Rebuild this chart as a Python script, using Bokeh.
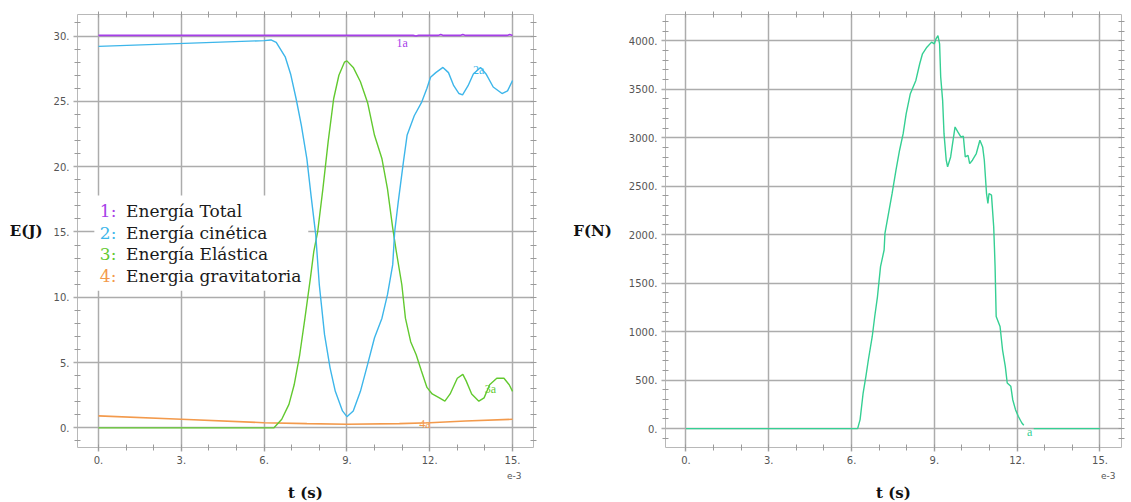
from bokeh.plotting import figure
from bokeh.layouts import row
from bokeh.models import Range1d, FixedTicker, LinearAxis, Label, Grid, Title
from bokeh.embed import file_html
from bokeh.resources import INLINE

# ---------------- data: energies (left) ----------------
t_total = [0.0, 3.0, 6.0, 8.0, 10.0, 11.4, 11.5, 11.6, 12.3, 12.4, 12.5, 13.1, 13.2, 13.3, 14.8, 14.9, 15.0]
e_total = [30.05, 30.05, 30.05, 30.05, 30.05, 30.05, 30.0, 30.05, 30.05, 30.12, 30.05, 30.05, 30.12, 30.05, 30.05, 30.12, 30.05]

t_kin = [0.0, 6.0, 6.25, 6.44, 6.77, 6.96, 7.16, 7.35, 7.55, 7.7, 7.87, 8.0, 8.19, 8.39, 8.58, 8.84, 9.0,
         9.23, 9.49, 9.75, 10.0, 10.27, 10.47, 10.66, 10.73, 10.86, 11.05, 11.18, 11.44, 11.7, 11.9, 12.03,
         12.22, 12.48, 12.68, 12.87, 13.06, 13.19, 13.39, 13.58, 13.84, 14.04, 14.3, 14.62, 14.82, 15.0]
e_kin = [29.21, 29.65, 29.7, 29.52, 28.38, 27.1, 25.2, 23.16, 20.6, 17.8, 14.8, 10.96, 7.14, 4.6, 2.8, 1.3, 0.86,
         1.3, 2.8, 4.86, 6.9, 8.4, 10.2, 12.5, 15.0, 17.3, 20.4, 22.4, 23.9, 24.9, 26.0, 26.85,
         27.2, 27.6, 27.2, 26.2, 25.6, 25.5, 26.2, 27.1, 27.6, 27.1, 26.1, 25.6, 25.8, 26.6]

t_ela = [0.0, 6.35, 6.64, 6.9, 7.09, 7.29, 7.48, 7.68, 7.8, 7.94, 8.13, 8.32, 8.52, 8.71, 8.91, 9.0,
         9.23, 9.49, 9.75, 10.0, 10.27, 10.47, 10.66, 10.79, 10.99, 11.12, 11.31, 11.51, 11.7, 11.9,
         12.09, 12.35, 12.55, 12.74, 13.0, 13.2, 13.32, 13.52, 13.78, 13.97, 14.17, 14.43, 14.69, 14.88, 15.0]
e_ela = [0.0, 0.0, 0.66, 1.8, 3.3, 5.6, 8.4, 11.5, 13.5, 15.0, 18.3, 21.9, 25.2, 27.0, 28.0, 28.1,
         27.6, 26.5, 24.9, 22.4, 20.6, 18.3, 15.3, 13.5, 10.96, 8.4, 6.6, 5.6, 4.35, 3.1,
         2.6, 2.3, 2.05, 2.6, 3.8, 4.1, 3.6, 2.6, 2.05, 2.3, 3.3, 3.8, 3.8, 3.3, 2.8]

t_grav = [0.0, 3.0, 6.0, 7.55, 9.0, 10.9, 12.0, 13.3, 15.0]
e_grav = [0.92, 0.66, 0.4, 0.33, 0.28, 0.33, 0.4, 0.53, 0.66]

legend_nums = ["1:", "2:", "3:", "4:"]
legend_names = ["Energía Total", "Energía cinética", "Energía Elástica", "Energia gravitatoria"]
curve_tags = ["1a", "2a", "3a", "4a"]
tag_t = [11.0, 13.77, 14.2, 11.83]
tag_e = [29.5, 27.4, 2.97, 0.3]

# ---------------- data: force (right) ----------------
t_force = [0.0, 6.22, 6.31, 6.42, 6.52, 6.61, 6.75, 6.84, 6.94, 7.05, 7.18, 7.21, 7.34, 7.47, 7.61, 7.74,
           7.87, 7.98, 8.13, 8.33, 8.47, 8.57, 8.73, 8.9, 9.0, 9.06, 9.13, 9.19, 9.23, 9.3, 9.35, 9.43,
           9.48, 9.59, 9.66, 9.75, 9.85, 9.96, 10.05, 10.12, 10.22, 10.28, 10.38, 10.52, 10.65, 10.75,
           10.81, 10.89, 10.94, 10.98, 11.07, 11.15, 11.18, 11.2, 11.24, 11.38, 11.47, 11.57, 11.64,
           11.77, 11.84, 11.94, 12.04, 12.17, 12.24, 12.3, 12.6, 15.0]
f_force = [0, 0, 93, 367, 538, 710, 950, 1156, 1362, 1670, 1842, 2013, 2219, 2425, 2665, 2871,
           3042, 3248, 3454, 3591, 3763, 3866, 3934, 3986, 3969, 4020, 4054, 3969, 3626, 3385, 3042, 2768,
           2700, 2802, 2940, 3111, 3060, 3008, 3015, 2802, 2819, 2733, 2768, 2837, 2974, 2905,
           2768, 2425, 2322, 2425, 2408, 2082, 1842, 1670, 1156, 1053, 813, 641, 470,
           436, 298, 195, 127, 58, 34, None, 0, 0]
force_tag = "a"

x_ticks = [0, 3, 6, 9, 12, 15]
x_tick_labels = ["0.", "3.", "6.", "9.", "12.", "15."]
e_ticks = [0, 5, 10, 15, 20, 25, 30]
e_tick_labels = ["0.", "5.", "10.", "15.", "20.", "25.", "30."]
f_ticks = [0, 500, 1000, 1500, 2000, 2500, 3000, 3500, 4000]
f_tick_labels = ["0.", "500.", "1000.", "1500.", "2000.", "2500.", "3000.", "3500.", "4000."]

C_TOT = "#a63ee8"
C_KIN = "#3db6ea"
C_ELA = "#62c92f"
C_GRA = "#f39a4c"
C_F = "#35cf93"
GRID = "#acacac"
TICKC = "#9a9a9a"
LBL = "#555555"
SERIF = "DejaVu Serif"
SANS = "DejaVu Sans"

x_minor = list(range(0, 16))


def style(p, xt, xl, yt, yl, ym, ylabel, ylabel_standoff, tlab_offset, e_offset):
    p.outline_line_color = "#b8b8b8"
    p.background_fill_color = "white"
    p.border_fill_color = "white"
    xtk = FixedTicker(ticks=xt, minor_ticks=x_minor)
    ytk = FixedTicker(ticks=yt, minor_ticks=ym)
    xtk_m = FixedTicker(ticks=[], minor_ticks=x_minor)
    ytk_m = FixedTicker(ticks=[], minor_ticks=sorted(set(ym) | set(yt)))
    bx = LinearAxis(ticker=xtk)
    ly = LinearAxis(ticker=ytk)
    tx = LinearAxis(ticker=xtk_m)
    ry = LinearAxis(ticker=ytk_m)
    p.add_layout(bx, "below")
    p.add_layout(ly, "left")
    p.add_layout(tx, "above")
    p.add_layout(ry, "right")
    bx.major_label_overrides = {v: s for v, s in zip(xt, xl)}
    ly.major_label_overrides = {v: s for v, s in zip(yt, yl)}
    for ax in (bx, ly, tx, ry):
        ax.axis_line_color = None
        ax.major_tick_line_color = GRID
        ax.major_tick_line_width = 1.5
        ax.major_tick_in = 0
        ax.major_tick_out = 4
        ax.minor_tick_line_color = TICKC
        ax.minor_tick_in = 3
        ax.minor_tick_out = 3
        ax.major_label_text_font = SANS
        ax.major_label_text_font_size = "10px"
        ax.major_label_text_color = LBL
        ax.major_label_standoff = 4
    ly.axis_label = ylabel
    ly.axis_label_orientation = "horizontal"
    ly.axis_label_standoff = ylabel_standoff
    ly.axis_label_text_font = SERIF
    ly.axis_label_text_font_size = "15px"
    ly.axis_label_text_font_style = "bold"
    ly.axis_label_text_color = "#111111"
    p.add_layout(Grid(dimension=0, ticker=xtk, grid_line_color=GRID, grid_line_width=1.5))
    p.add_layout(Grid(dimension=1, ticker=ytk, grid_line_color=GRID, grid_line_width=1.5))
    p.add_layout(Title(text="e-3", align="right", offset=e_offset, standoff=6, text_font=SANS,
                       text_font_size="9px", text_font_style="normal", text_color=LBL), "below")
    p.add_layout(Title(text="t (s)", align="center", offset=tlab_offset, standoff=0, text_font=SERIF,
                       text_font_size="15px", text_font_style="bold", text_color="#111111"), "below")


# ---------------- left figure ----------------
p1 = figure(width=560, height=502, output_backend="svg", toolbar_location=None,
            x_axis_type=None, y_axis_type=None,
            x_range=Range1d(-0.76, 15.76), y_range=Range1d(-1.5, 31.65),
            min_border_left=77, min_border_right=27, min_border_top=12, min_border_bottom=55)
style(p1, x_ticks, x_tick_labels, e_ticks, e_tick_labels,
      [v for v in range(-1, 32) if v % 5 != 0], "E(J)", 8, 5, 12)

# legend box (white) covering the grid
p1.quad(left=[-0.15], right=[7.6], bottom=[10.5], top=[17.8], fill_color="white", line_color=None)

p1.line(t_grav, e_grav, line_color=C_GRA, line_width=1.6)
p1.line(t_ela, e_ela, line_color=C_ELA, line_width=1.4)
p1.line(t_kin, e_kin, line_color=C_KIN, line_width=1.4)
p1.line(t_total, e_total, line_color=C_TOT, line_width=1.6)

leg_colors = [C_TOT, C_KIN, C_ELA, C_GRA]
leg_y = [16.6, 14.95, 13.35, 11.65]
for num, name, c, yy in zip(legend_nums, legend_names, leg_colors, leg_y):
    p1.add_layout(Label(x=0.05, y=yy, text=num, text_color=c, text_font=SERIF, text_font_size="17px",
                        text_baseline="middle"))
    p1.add_layout(Label(x=1.0, y=yy, text=name, text_color="#1a1a1a", text_font=SERIF,
                        text_font_size="17px", text_baseline="middle"))

for tg, c, tx_, ty_ in zip(curve_tags, leg_colors, tag_t, tag_e):
    p1.add_layout(Label(x=tx_, y=ty_, text=tg, text_color=c, text_font="Liberation Serif",
                        text_font_size="12px", text_align="center", text_baseline="middle"))

# ---------------- right figure ----------------
p2 = figure(width=571, height=502, output_backend="svg", toolbar_location=None,
            x_axis_type=None, y_axis_type=None,
            x_range=Range1d(-0.74, 15.78), y_range=Range1d(-195, 4271),
            min_border_left=105, min_border_right=10, min_border_top=14, min_border_bottom=54)
style(p2, x_ticks, x_tick_labels, f_ticks, f_tick_labels,
      [v for v in range(-100, 4300, 100) if v % 500 != 0], "F(N)", 14, 6, 6)

p2.line(t_force, [float("nan") if v is None else v for v in f_force], line_color=C_F, line_width=1.4)
p2.add_layout(Label(x=12.45, y=-40, text=force_tag, text_color=C_F, text_font="Liberation Serif",
                    text_font_size="12px", text_align="center", text_baseline="middle"))

layout = row(p1, p2, spacing=0)
open("out.html", "w").write(file_html(layout, INLINE))
